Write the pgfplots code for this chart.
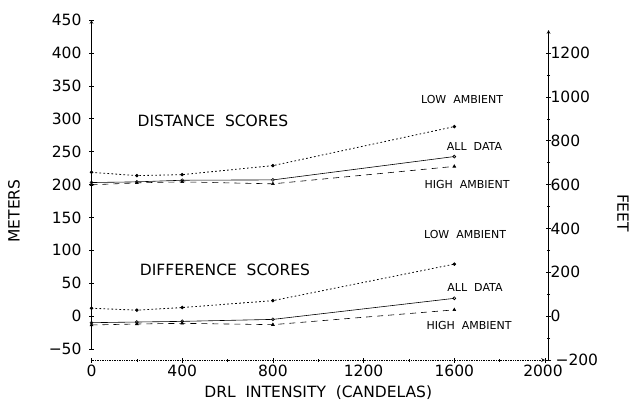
\documentclass[border=0pt]{standalone}
\usepackage{fontspec}
\setmainfont{DejaVu Sans}
\usepackage{pgfplots}
\pgfplotsset{compat=1.18}
\begin{document}
\begin{tikzpicture}
\path[use as bounding box] (0pt,0pt) rectangle (631pt,400pt);
\pgfplotsset{every axis/.append style={
  scale only axis,
  /pgf/number format/assume math mode=true,
  /pgf/number format/1000 sep={},
  tick label style={font=\fontsize{15.5}{17}\selectfont},
  axis line style={-, line width=0.7pt},
  major tick length=5pt, minor tick length=3pt,
  tick style={line width=0.6pt, black},
  tick align=outside}}
% x axis
\begin{axis}[at={(91.5pt,40pt)}, anchor=south west, width=453.5pt, height=10pt,
  xmin=0, xmax=2000, ymin=0, ymax=1,
  axis x line=bottom, axis y line=none,
  x axis line style={densely dotted},
  xtick={0,400,...,2000}, minor x tick num=1,
  xticklabels={0,400,800,1200,1600,\hspace*{-4pt}2000},
  xticklabel style={yshift=1pt},
  xlabel={DRL\ \ INTENSITY\ \ (CANDELAS)},
  xlabel style={font=\fontsize{15.5}{17}\selectfont, yshift=-2pt}]
\end{axis}
% right axis (feet)
\begin{axis}[at={(548.5pt,40pt)}, anchor=south east, width=10pt, height=330pt,
  xmin=0, xmax=1, ymin=-200, ymax=1305,
  axis y line=right, axis x line=none,
  ytick={-200,0,...,1200}, yticklabels={\hspace*{5pt}−200,0,200,400,600,800,1000,1200},
  yticklabel style={xshift=-4pt},
  minor y tick num=1]
\end{axis}
% main axis (meters) with data
\begin{axis}[at={(91.5pt,51pt)}, anchor=south west, width=453.5pt, height=329pt,
  xmin=0, xmax=2000, ymin=-50, ymax=450,
  axis y line=left, axis x line=none,
  ytick={-50,0,...,450}, yticklabels={−50,0,50,100,150,200,250,300,350,400,450},
  yticklabel style={xshift=-4pt},
  clip=false]
% Distance scores
\addplot[black, line width=0.8pt, dash pattern=on 1.6pt off 2.4pt, mark=*, mark size=1.3pt, mark options={solid}]
  coordinates {(0,218.5) (200,213.5) (400,215) (800,228.7) (1600,288)};
\addplot[black, line width=0.6pt, mark=o, mark size=1.5pt]
  coordinates {(0,203) (200,204) (400,206.5) (800,207) (1600,242.5)};
\addplot[black, line width=0.6pt, dash pattern=on 6pt off 5pt, mark=triangle*, mark size=1.6pt, mark options={solid}]
  coordinates {(0,199.5) (200,202.5) (400,204) (800,201) (1600,227.5)};
% Difference scores
\addplot[black, line width=0.8pt, dash pattern=on 1.6pt off 2.4pt, mark=*, mark size=1.3pt, mark options={solid}]
  coordinates {(0,12) (200,9) (400,13) (800,23.5) (1600,79)};
\addplot[black, line width=0.6pt, mark=o, mark size=1.5pt]
  coordinates {(0,-10) (200,-9) (400,-8) (800,-5) (1600,27)};
\addplot[black, line width=0.6pt, dash pattern=on 6pt off 5pt, mark=triangle*, mark size=1.6pt, mark options={solid}]
  coordinates {(0,-13.5) (200,-12) (400,-11) (800,-13) (1600,9.5)};
\end{axis}
% labels
\node[font=\fontsize{15.5}{17}\selectfont] at (213pt,279pt) {DISTANCE\ \ SCORES};
\node[font=\fontsize{15.5}{17}\selectfont] at (225pt,130pt) {DIFFERENCE\ \ SCORES};
\node[font=\fontsize{11}{13}\selectfont] at (462pt,301pt) {LOW\ \ AMBIENT};
\node[font=\fontsize{11}{13}\selectfont] at (474.5pt,254pt) {ALL\ \ DATA};
\node[font=\fontsize{11}{13}\selectfont] at (467pt,216pt) {HIGH\ \ AMBIENT};
\node[font=\fontsize{11}{13}\selectfont] at (465pt,166pt) {LOW\ \ AMBIENT};
\node[font=\fontsize{11}{13}\selectfont] at (475pt,113pt) {ALL\ \ DATA};
\node[font=\fontsize{11}{13}\selectfont] at (469pt,75pt) {HIGH\ \ AMBIENT};
\node[font=\fontsize{15.5}{17}\selectfont, rotate=90] at (14pt,189pt) {METERS};
\node[font=\fontsize{15.5}{17}\selectfont, rotate=-90] at (623pt,187pt) {FEET};
\end{tikzpicture}
\end{document}
